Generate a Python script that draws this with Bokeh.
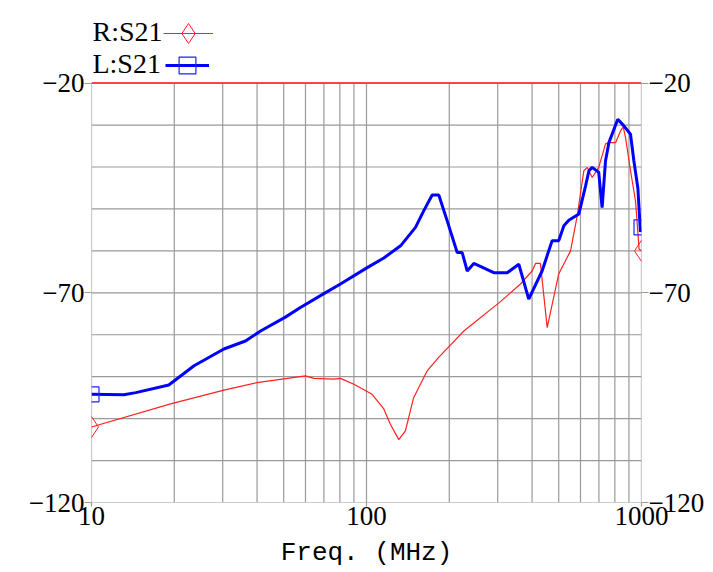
import numpy as np
from bokeh.plotting import figure
from bokeh.models import (Range1d, FixedTicker, LinearAxis, PrintfTickFormatter,
                          Label, Legend, LegendItem)
from bokeh.embed import file_html
from bokeh.resources import INLINE

# ---- data ----
l_freq = [10, 13.1, 14.5, 19.1, 23.6, 30.3, 36.3, 41.2, 50.7, 57.5, 70, 80.4, 100.6, 115.6,
          133, 150.7, 161.6, 173.3, 183.2, 196.4, 213.7, 222.8, 232.4, 245.6, 290.3, 324.9,
          358, 389, 435, 473, 500, 522, 544, 592, 626, 644, 662, 699, 719, 740, 761, 820,
          863, 912, 938, 970, 991, 1000]
l_db = [-94.2, -94.3, -93.8, -92.0, -87.4, -83.4, -81.5, -79.1, -75.8, -73.5, -70.2, -67.9, -64.0,
        -61.7, -58.8, -54.4, -50.4, -46.7, -46.7, -52.8, -60.4, -60.4, -64.8, -63.0, -65.2,
        -65.2, -63.2, -71.5, -64.8, -57.6, -57.6, -54.0, -52.7, -51.2, -44.5, -40.9, -40.1,
        -41.3, -49.7, -38.5, -34.2, -28.6, -30.2, -32.2, -38.5, -45.0, -55.5, -54.4]

r_freq = [10, 19.4, 30.3, 40, 51.6, 60, 64.4, 76.2, 80.4, 90, 104.8, 115.6, 122, 131, 138.5,
          148.4, 166.3, 183, 226, 307, 363, 400, 412, 429, 454, 500, 552, 584, 617, 635, 662,
          699, 740, 763, 805, 839, 858, 875, 912, 951, 970, 980, 1000]
r_db = [-102.0, -96.5, -93.2, -91.4, -90.4, -89.8, -90.4, -90.6, -90.4, -91.8, -94.2, -97.7,
        -101.3, -105.0, -102.9, -95.0, -88.6, -85.4, -79.1, -72.1, -67.9, -64.8, -63.0, -63.0,
        -78.3, -65.5, -60.0, -51.6, -40.9, -40.1, -42.5, -40.1, -34.5, -34.2, -34.2, -31.4,
        -30.4, -33.0, -40.9, -48.1, -55.6, -59.6, -60.0]

series_names = ["R:S21", "L:S21"]
x_ticks = [10, 100, 1000]
x_minor = [20, 30, 40, 50, 60, 70, 80, 90, 200, 300, 400, 500, 600, 700, 800, 900]
y_ticks = [-120, -70, -20]
y_minor = [-110, -100, -90, -80, -60, -50, -40, -30]
x_title = "Freq. (MHz)"

GRID = "#9a9a9a"
RED = "#ff2020"
BLUE = "#0000ff"
FONT = "Liberation Serif"

# frame is extended upward so the legend (above the -20 line) is not clipped
Y_TOP = -1.26

p = figure(width=710, height=572, x_axis_type="log",
           x_range=Range1d(10, 1000), y_range=Range1d(-120, Y_TOP),
           output_backend="svg", toolbar_location=None,
           min_border_left=91, min_border_right=69, min_border_top=4, min_border_bottom=70)
p.outline_line_color = None
p.background_fill_color = "white"
p.xgrid.visible = False
p.ygrid.visible = False

# axes
p.xaxis.ticker = FixedTicker(ticks=x_ticks, minor_ticks=x_minor)
p.xaxis.formatter = PrintfTickFormatter(format="%d")
p.yaxis.ticker = FixedTicker(ticks=y_ticks, minor_ticks=y_minor)
yr = LinearAxis(ticker=FixedTicker(ticks=y_ticks, minor_ticks=y_minor))
p.add_layout(yr, "right")

for ax in [p.xaxis[0], p.yaxis[0], yr]:
    ax.axis_line_color = None
    ax.major_tick_line_color = GRID
    ax.major_tick_line_width = 1.2
    ax.major_tick_out = 7
    ax.major_tick_in = 0
    ax.minor_tick_line_color = None
    ax.major_label_text_font = FONT
    ax.major_label_text_font_size = "27px"
    ax.major_label_text_color = "black"
    ax.major_label_standoff = 0
p.xaxis.major_tick_out = 4
p.xaxis.major_label_standoff = 0
p.xaxis.axis_label = x_title
p.xaxis.axis_label_text_font = "Liberation Mono"
p.xaxis.axis_label_text_font_size = "26px"
p.xaxis.axis_label_text_font_style = "normal"
p.xaxis.axis_label_text_color = "black"
p.xaxis.axis_label_standoff = 10

# grid drawn only over the -120..-20 data box
gx = x_ticks + x_minor
p.segment(x0=gx, x1=gx, y0=[y_ticks[0]] * len(gx), y1=[y_ticks[-1]] * len(gx),
          line_color=GRID, line_width=1.2)
gy = y_ticks + y_minor
p.segment(x0=[x_ticks[0]] * len(gy), x1=[x_ticks[-1]] * len(gy), y0=gy, y1=gy,
          line_color=GRID, line_width=1.2)

# red reference line at top
p.segment(x0=[x_ticks[0]], x1=[x_ticks[-1]], y0=[y_ticks[-1]], y1=[y_ticks[-1]],
          line_color=RED, line_width=1.5)

# series
r_line = p.line(r_freq, r_db, line_color=RED, line_width=1.2)
l_line = p.line(l_freq, l_db, line_color=BLUE, line_width=3)
r_mark = p.scatter([r_freq[0], r_freq[-1]], [r_db[0], r_db[-1]], marker="diamond",
                   size=21, fill_alpha=0, line_color=RED, line_width=1)
l_mark = p.scatter([l_freq[0], l_freq[-1]], [l_db[0], l_db[-1]], marker="square",
                   size=15, fill_alpha=0, line_color="#2020ff", line_width=1.2)

# legend symbols (one legend per series) + texts to their left
common = dict(spacing=0, padding=0, margin=0, label_standoff=0, label_width=0,
              label_text_font_size="1px", background_fill_alpha=0, border_line_alpha=0)
leg_r = Legend(items=[LegendItem(label="", renderers=[r_line, r_mark])],
               location=(72, 440), glyph_width=50, glyph_height=58, label_height=58, **common)
leg_l = Legend(items=[LegendItem(label="", renderers=[l_line, l_mark])],
               location=(74, 416), glyph_width=44, glyph_height=42, label_height=42, **common)
p.add_layout(leg_r)
p.add_layout(leg_l)

p.add_layout(Label(x=10.08, y=-7.8, text=series_names[0], text_font=FONT,
                   text_color="black", text_font_size="28px",
                   text_baseline="middle", text_align="left"))
p.add_layout(Label(x=10.08, y=-15.4, text=series_names[1], text_font=FONT,
                   text_color="black", text_font_size="28px",
                   text_baseline="middle", text_align="left"))

open("out.html", "w").write(file_html(p, INLINE))
